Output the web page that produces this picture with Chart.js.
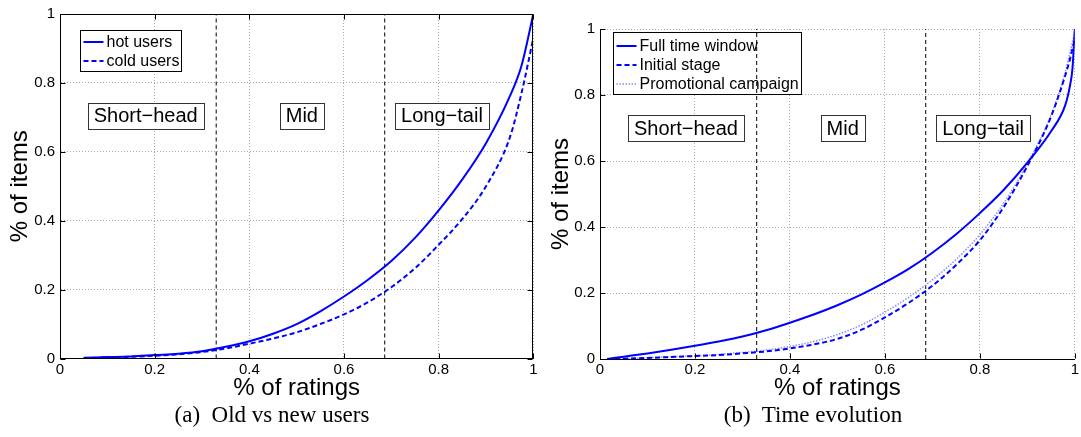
<!DOCTYPE html>
<html>
<head>
<meta charset="utf-8">
<script src="https://cdn.jsdelivr.net/npm/chart.js@4/dist/chart.umd.min.js"></script>
<style>
html,body{margin:0;padding:0;background:#fff;}
body{width:1081px;height:437px;position:relative;overflow:hidden;}
.wrap{position:absolute;top:0;height:410px;}
#w1{left:0;width:540px;}
#w2{left:540px;width:541px;}
.cap{position:absolute;top:402px;line-height:26px;font-family:"Liberation Serif","Times New Roman",serif;font-size:23px;color:#000;white-space:nowrap;transform:translateX(-50%);}
</style>
</head>
<body>
<div class="wrap" id="w1"><canvas id="c1"></canvas></div>
<div class="wrap" id="w2"><canvas id="c2"></canvas></div>
<div class="cap" style="left:272px">(a)&nbsp; Old vs new users</div>
<div class="cap" style="left:813px">(b)&nbsp; Time evolution</div>
<script>
// ---------- data ----------
const xTicks = [0, 0.2, 0.4, 0.6, 0.8, 1];
const xTickLabels = ['0', '0.2', '0.4', '0.6', '0.8', '1'];
const yTicks = [0, 0.2, 0.4, 0.6, 0.8, 1];
const yTickLabels = ['0', '0.2', '0.4', '0.6', '0.8', '1'];
const boundaries = [0.33, 0.686];
const regionLabels = ['Short\u2212head', 'Mid', 'Long\u2212tail'];
const regionX = [0.181, 0.511, 0.807];
const regionYLeft = 0.704;
const regionYRight = 0.70;

// (a) Old vs new users
const leftX     = [0.05, 0.1, 0.15, 0.2, 0.25, 0.3, 0.35, 0.4, 0.45, 0.5, 0.55, 0.6, 0.65, 0.7, 0.75, 0.8, 0.85, 0.9, 0.95, 0.975, 1.0];
const hotUsers  = [0.002, 0.004, 0.006, 0.010, 0.014, 0.021, 0.034, 0.050, 0.072, 0.100, 0.137, 0.180, 0.228, 0.283, 0.350, 0.430, 0.520, 0.625, 0.760, 0.850, 1.0];
const coldUsers = [0.001, 0.003, 0.005, 0.008, 0.012, 0.019, 0.029, 0.043, 0.058, 0.076, 0.100, 0.128, 0.163, 0.207, 0.262, 0.330, 0.405, 0.500, 0.640, 0.770, 0.930];

// (b) Time evolution
const rightX        = [0.015, 0.05, 0.1, 0.15, 0.2, 0.25, 0.3, 0.35, 0.4, 0.45, 0.5, 0.55, 0.6, 0.65, 0.7, 0.75, 0.8, 0.85, 0.9, 0.95, 0.98, 0.99, 0.995, 1.0];
const fullWindow    = [0, 0.007, 0.017, 0.028, 0.040, 0.053, 0.068, 0.087, 0.110, 0.135, 0.163, 0.195, 0.232, 0.273, 0.322, 0.378, 0.442, 0.512, 0.595, 0.690, 0.770, 0.830, 0.880, 1.0];
const initialStage  = [0, 0.001, 0.003, 0.006, 0.009, 0.012, 0.017, 0.023, 0.032, 0.044, 0.061, 0.088, 0.126, 0.170, 0.222, 0.285, 0.360, 0.460, 0.585, 0.735, 0.860, 0.910, 0.940, 0.970];
const promoCampaign = [0, 0.001, 0.004, 0.007, 0.010, 0.014, 0.020, 0.027, 0.038, 0.053, 0.074, 0.103, 0.142, 0.187, 0.240, 0.302, 0.377, 0.472, 0.592, 0.740, 0.870, 0.930, 0.960, 0.990];

// ---------- rendering ----------
const FONT = '"Liberation Sans", Arial, Helvetica, sans-serif';
function pts(xs, ys) { return xs.map((x, i) => ({x: x, y: ys[i]})); }

function buildChart(canvasId, o) {
  const datasets = o.series.map(s => ({
    label: s.label, data: pts(o.x, s.y), borderColor: s.color, borderWidth: s.width,
    borderDash: s.dash, pointRadius: 0, fill: false, cubicInterpolationMode: 'monotone'
  }));
  boundaries.forEach(b => datasets.push({
    label: '', data: [{x: b, y: 0}, {x: b, y: 1}], borderColor: '#000', borderWidth: 1,
    borderDash: [4, 3], pointRadius: 0, fill: false
  }));

  const decor = {
    id: 'decor',
    beforeDatasetsDraw(chart) {
      const ctx = chart.ctx, ca = chart.chartArea, L = o.legend;
      const bx = Math.round(ca.left + L.dx) + 0.5, by = Math.round(ca.top + L.dy) + 0.5;
      ctx.save();
      ctx.fillStyle = '#fff';
      ctx.fillRect(bx, by, L.w, L.h);
      ctx.strokeStyle = '#000'; ctx.lineWidth = 1; ctx.setLineDash([]);
      ctx.strokeRect(bx, by, L.w, L.h);
      ctx.font = '16px ' + FONT;
      ctx.textAlign = 'left'; ctx.textBaseline = 'middle';
      o.series.forEach((s, i) => {
        const y = Math.round(by + L.row0 + i * L.rowH);
        ctx.strokeStyle = s.color; ctx.lineWidth = s.width; ctx.setLineDash(s.dash || []);
        ctx.beginPath(); ctx.moveTo(bx + 3, y); ctx.lineTo(bx + 23, y); ctx.stroke();
        ctx.setLineDash([]);
        ctx.fillStyle = '#000';
        ctx.fillText(s.label, bx + 26, y + 0.5);
      });
      ctx.restore();
    },
    afterDatasetsDraw(chart) {
      const ctx = chart.ctx, xs = chart.scales.x, ys = chart.scales.y;
      ctx.save();
      ctx.font = '20px ' + FONT;
      ctx.textAlign = 'center'; ctx.textBaseline = 'middle';
      regionLabels.forEach((t, i) => {
        const cx = xs.getPixelForValue(regionX[i]);
        const cy = ys.getPixelForValue(o.regionY);
        const w = ctx.measureText(t).width + 12, h = 26;
        const rx = Math.round(cx - w / 2) + 0.5, ry = Math.round(cy - h / 2) + 0.5;
        ctx.fillStyle = '#fff'; ctx.fillRect(rx, ry, w, h);
        ctx.strokeStyle = '#333'; ctx.lineWidth = 1; ctx.setLineDash([]);
        ctx.strokeRect(rx, ry, Math.round(w), h);
        ctx.fillStyle = '#000';
        ctx.fillText(t, cx, cy + 1);
      });
      ctx.restore();
    },
    afterDraw(chart) {
      const ctx = chart.ctx, ca = chart.chartArea, xs = chart.scales.x, ys = chart.scales.y;
      const l = Math.round(ca.left) + 0.5, r = Math.round(ca.right) - 0.5;
      const t = Math.round(ca.top) + 0.5, b = Math.round(ca.bottom) - 0.5;
      ctx.save();
      ctx.strokeStyle = '#000'; ctx.lineWidth = 1; ctx.setLineDash([]);
      ctx.beginPath();
      xTicks.forEach(v => {
        const px = Math.round(xs.getPixelForValue(v)) + 0.5;
        ctx.moveTo(px, b); ctx.lineTo(px, b - 5);
        if (o.box) { ctx.moveTo(px, t); ctx.lineTo(px, t + 5); }
      });
      yTicks.forEach(v => {
        const py = Math.round(ys.getPixelForValue(v)) + 0.5;
        ctx.moveTo(l, py); ctx.lineTo(l + 5, py);
        if (o.box) { ctx.moveTo(r, py); ctx.lineTo(r - 5, py); }
      });
      ctx.stroke();
      if (o.box) { ctx.strokeRect(l, t, r - l, b - t); }
      ctx.restore();
    }
  };

  const gridStyle = {color: '#a8a8a8', lineWidth: 1, drawTicks: false};
  const borderStyle = {display: true, color: '#000', width: 1, dash: [1, 2]};

  return new Chart(document.getElementById(canvasId), {
    type: 'line',
    data: {datasets: datasets},
    plugins: [decor],
    options: {
      animation: false, responsive: true, maintainAspectRatio: false, devicePixelRatio: 1,
      layout: {padding: {top: o.padTop, right: o.padRight, left: 0, bottom: 0}},
      plugins: {legend: {display: false}, tooltip: {enabled: false}},
      scales: {
        x: {
          type: 'linear', min: 0, max: 1,
          afterBuildTicks: s => { s.ticks = xTicks.map(v => ({value: v})); },
          afterFit: s => { s.height = o.xHeight; },
          ticks: {callback: (v) => xTickLabels[xTicks.indexOf(v)], font: {family: FONT, size: 15}, color: '#000', padding: o.xTickPad, maxRotation: 0, autoSkip: false},
          grid: gridStyle, border: borderStyle,
          title: {display: true, text: '% of ratings', color: '#000', font: {family: FONT, size: 24}, padding: {top: 0, bottom: 6.8}}
        },
        y: {
          type: 'linear', min: 0, max: 1,
          afterBuildTicks: s => { s.ticks = yTicks.map(v => ({value: v})); },
          afterFit: s => { s.width = 60; },
          ticks: {callback: (v) => yTickLabels[yTicks.indexOf(v)], font: {family: FONT, size: 15}, color: '#000', padding: 5, autoSkip: false},
          grid: gridStyle, border: borderStyle,
          title: {display: true, text: '% of items', color: '#000', font: {family: FONT, size: 24}, padding: {top: o.yTitlePad, bottom: 0}}
        }
      }
    }
  });
}

buildChart('c1', {
  x: leftX,
  series: [
    {label: 'hot users', y: hotUsers, color: '#0000ff', width: 2, dash: []},
    {label: 'cold users', y: coldUsers, color: '#0000ff', width: 2, dash: [5, 3]}
  ],
  legend: {dx: 20, dy: 15.5, w: 101, h: 41, row0: 11, rowH: 19},
  regionY: regionYLeft, box: true,
  padTop: 8.5, padRight: 6, xHeight: 51.5, xTickPad: 2.5, yTitlePad: 5.5
});

buildChart('c2', {
  x: rightX,
  series: [
    {label: 'Full time window', y: fullWindow, color: '#0000ff', width: 2, dash: []},
    {label: 'Initial stage', y: initialStage, color: '#0000ff', width: 2, dash: [5, 3]},
    {label: 'Promotional campaign', y: promoCampaign, color: '#8c8cff', width: 1.5, dash: [1.5, 1.5]}
  ],
  legend: {dx: 13, dy: 3, w: 188, h: 62, row0: 13, rowH: 19},
  regionY: regionYRight, box: false,
  padTop: 29, padRight: 4, xHeight: 51, xTickPad: 2, yTitlePad: 6.8
});
</script>
</body>
</html>
